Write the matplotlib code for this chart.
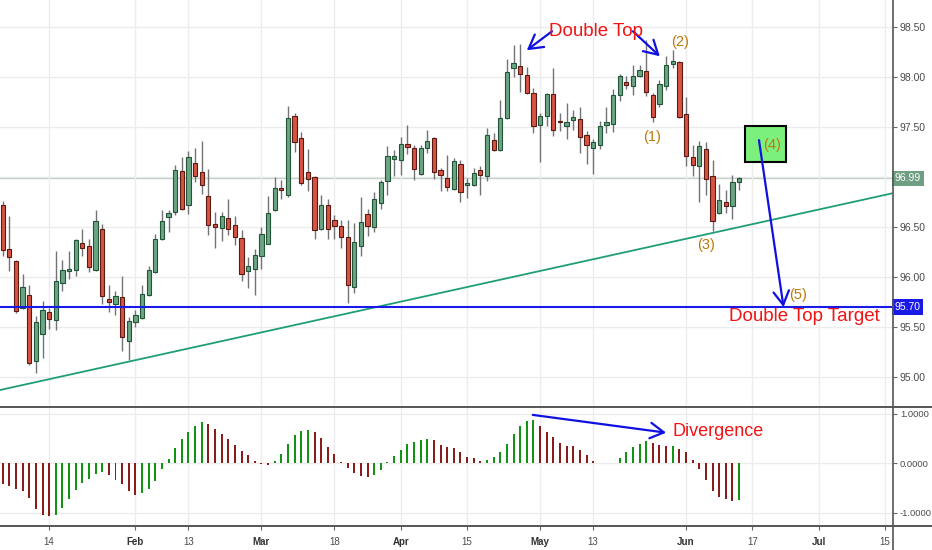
import numpy as np
import matplotlib.pyplot as plt
from matplotlib.patches import Rectangle
from matplotlib.lines import Line2D

#=========================================================================================
# daily candles (Jan 3 .. Jun 13)

opens = [96.72, 96.28, 96.16, 95.69, 95.82, 95.16, 95.43, 95.65, 95.57, 95.94,
         96.06, 96.07, 96.34, 96.31, 96.07, 96.48, 95.78, 95.73, 95.80, 95.36,
         95.55, 95.59, 95.82, 96.05, 96.38, 96.60, 96.65, 97.06, 96.72, 97.14,
         97.05, 96.81, 96.53, 96.49, 96.59, 96.52, 96.39, 96.06, 96.08, 96.21,
         96.33, 96.67, 96.89, 96.82, 97.61, 97.39, 97.05, 97.00, 96.48, 96.72,
         96.57, 96.51, 96.40, 95.90, 96.31, 96.63, 96.50, 96.74, 96.96, 97.18,
         97.17, 97.33, 97.29, 97.03, 97.29, 97.39, 97.07, 96.99, 96.88, 97.13,
         96.92, 96.92, 97.07, 97.01, 97.37, 97.27, 97.59, 98.09, 98.11, 98.02,
         97.84, 97.52, 97.61, 97.83, 97.56, 97.51, 97.57, 97.58, 97.42, 97.29,
         97.32, 97.52, 97.53, 97.82, 97.95, 97.91, 98.01, 98.06, 97.82, 97.73,
         97.91, 98.13, 98.15, 97.63, 97.20, 97.11, 97.28, 97.01, 96.64, 96.75,
         96.71, 96.95]

highs = [96.76, 96.61, 96.17, 96.03, 95.92, 95.61, 95.76, 95.69, 96.26, 96.17,
         96.26, 96.38, 96.48, 96.38, 96.67, 96.53, 95.92, 95.86, 96.01, 95.60,
         95.67, 95.92, 96.11, 96.43, 96.67, 96.67, 97.12, 97.20, 97.26, 97.29,
         97.36, 97.08, 96.65, 96.65, 96.78, 96.61, 96.47, 96.20, 96.28, 96.50,
         96.81, 97.00, 96.97, 97.71, 97.64, 97.45, 97.28, 97.01, 96.82, 96.78,
         96.62, 96.57, 96.57, 96.54, 96.80, 96.68, 96.85, 96.97, 97.31, 97.27,
         97.40, 97.52, 97.32, 97.32, 97.47, 97.40, 97.09, 97.22, 97.19, 97.17,
         96.99, 97.09, 97.11, 97.49, 97.44, 97.77, 98.18, 98.32, 98.33, 98.10,
         97.89, 97.64, 97.84, 98.09, 97.64, 97.74, 97.67, 97.70, 97.46, 97.38,
         97.56, 97.70, 97.88, 98.03, 98.01, 98.12, 98.12, 98.37, 97.84, 97.97,
         98.21, 98.27, 98.16, 97.80, 97.32, 97.36, 97.35, 97.17, 96.93, 96.87,
         97.02, 97.00]

lows = [96.21, 96.06, 95.64, 95.68, 95.12, 95.04, 95.19, 95.48, 95.47, 95.86,
        95.98, 96.01, 96.21, 96.05, 96.06, 95.73, 95.65, 95.62, 95.26, 95.17,
        95.50, 95.58, 95.81, 96.04, 96.37, 96.45, 96.62, 96.67, 96.63, 96.95,
        96.83, 96.42, 96.29, 96.36, 96.42, 96.32, 95.96, 95.89, 95.82, 96.08,
        96.33, 96.66, 96.78, 96.80, 97.25, 96.92, 96.86, 96.38, 96.47, 96.38,
        96.38, 96.29, 95.74, 95.84, 96.21, 96.41, 96.45, 96.68, 96.82, 97.01,
        97.02, 97.23, 96.97, 97.02, 97.24, 96.98, 96.86, 96.86, 96.87, 96.75,
        96.79, 96.91, 96.82, 96.96, 97.26, 97.26, 97.58, 98.00, 97.85, 97.83,
        97.44, 97.15, 97.51, 97.41, 97.46, 97.38, 97.47, 97.24, 97.13, 97.03,
        97.28, 97.44, 97.45, 97.76, 97.88, 97.82, 98.00, 97.81, 97.55, 97.70,
        97.87, 98.09, 97.59, 97.11, 97.01, 96.75, 96.82, 96.46, 96.63, 96.64,
        96.58, 96.87]

closes = [96.27, 96.20, 95.66, 95.90, 95.14, 95.55, 95.67, 95.58, 95.96, 96.07,
          96.08, 96.37, 96.29, 96.10, 96.56, 95.81, 95.75, 95.81, 95.40, 95.56,
          95.62, 95.83, 96.07, 96.38, 96.56, 96.64, 97.07, 96.68, 97.20, 97.01,
          96.92, 96.52, 96.50, 96.61, 96.48, 96.40, 96.03, 96.11, 96.22, 96.43,
          96.64, 96.89, 96.87, 97.59, 97.35, 96.94, 96.98, 96.47, 96.72, 96.48,
          96.51, 96.40, 95.92, 96.35, 96.55, 96.51, 96.78, 96.95, 97.21, 97.21,
          97.33, 97.30, 97.08, 97.29, 97.36, 97.05, 97.02, 96.90, 97.16, 96.85,
          96.94, 97.04, 97.02, 97.42, 97.27, 97.59, 98.05, 98.14, 98.03, 97.84,
          97.51, 97.61, 97.83, 97.47, 97.55, 97.55, 97.60, 97.40, 97.32, 97.35,
          97.51, 97.55, 97.82, 98.01, 97.92, 98.01, 98.07, 97.85, 97.60, 97.93,
          98.12, 98.16, 97.60, 97.21, 97.12, 97.31, 96.98, 96.56, 96.77, 96.71,
          96.95, 96.99]

# oscillator histogram
osc = [-0.41, -0.46, -0.52, -0.56, -0.71, -0.92, -1.04, -1.07, -1.04, -0.90,
       -0.73, -0.54, -0.39, -0.32, -0.22, -0.18, -0.24, -0.34, -0.41, -0.56,
       -0.64, -0.61, -0.52, -0.35, -0.12, 0.09, 0.31, 0.49, 0.63, 0.75,
       0.83, 0.79, 0.70, 0.59, 0.49, 0.37, 0.24, 0.16, 0.05, -0.02,
       -0.03, 0.04, 0.18, 0.39, 0.58, 0.66, 0.68, 0.63, 0.51, 0.33,
       0.18, 0.03, -0.10, -0.20, -0.26, -0.27, -0.24, -0.14, 0.03, 0.14,
       0.26, 0.39, 0.44, 0.47, 0.49, 0.47, 0.37, 0.34, 0.31, 0.22,
       0.12, 0.11, 0.05, 0.07, 0.12, 0.22, 0.39, 0.59, 0.76, 0.86,
       0.87, 0.76, 0.63, 0.53, 0.42, 0.36, 0.35, 0.27, 0.16, 0.05,
       0.01, 0.00, 0.01, 0.10, 0.22, 0.33, 0.39, 0.46, 0.41, 0.37,
       0.35, 0.36, 0.28, 0.22, 0.07, -0.12, -0.34, -0.56, -0.68, -0.73,
       -0.76, -0.75]

date_pos = [7, 20, 28, 39, 50, 60, 70, 81, 89, 103, 113, 123, 133]
date_lbl = ['14', 'Feb', '13', 'Mar', '18', 'Apr', '15', 'May', '13', 'Jun', '17', 'Jul', '15']
price_ticks = [95.0, 95.5, 96.0, 96.5, 97.5, 98.0, 98.5]
osc_ticks = [-1.0, 0.0, 1.0]

target = 95.70
trend_x = [-0.41, 134.2]
trend_y = [94.87, 96.84]

#=========================================================================================

font = 'Liberation Sans'
tick_col = '#4a4a4a'

o = np.array(opens); h = np.array(highs); l = np.array(lows); c = np.array(closes)
x = np.arange(len(o))
up = c >= o

fig = plt.figure(figsize=(9.32, 5.5), dpi=100)
ax = fig.add_axes([0, 143/550, 893/932, 407/550])
ax2 = fig.add_axes([0, 24/550, 893/932, 119/550])

# candles
ax.vlines(x, l, h, color='#737375', lw=1, zorder=2)
ax.bar(x, np.maximum(np.abs(c - o), 0.012), 0.64, bottom=np.minimum(o, c),
       color=np.where(up, '#6ba583', '#d75442'),
       edgecolor=np.where(up, '#225437', '#5b1a13'), linewidth=0.8, zorder=3)

ax.plot(trend_x, trend_y, color='#1f9e77', lw=1.3, zorder=4)
ax.axhline(target, color='#1a1ae6', lw=1.5, zorder=4)
ax.axhline(c[-1], color='#c5d3ca', lw=1, zorder=1)

ax.add_patch(Rectangle((111.9, 97.15), 6.1, 0.36, fc='#7cf07c', ec='black', lw=1.5, zorder=5))

arrow = dict(arrowstyle='->,head_length=0.7,head_width=0.4', color='#1010e0', lw=1.6,
             mutation_scale=14, shrinkA=0, shrinkB=0)
ax.annotate('', xy=(117.7, 95.70), xytext=(114.0, 97.37), arrowprops=arrow, zorder=6)
ax.annotate('', xy=(79.0, 98.27), xytext=(82.8, 98.46), arrowprops=arrow, zorder=6)
ax.annotate('', xy=(99.05, 98.21), xytext=(95.0, 98.46), arrowprops=arrow, zorder=6)

red_txt = dict(color='#f01414', fontsize=13.5, family=font, ha='center', va='center', zorder=7)
ax.text(89.5, 98.46, 'Double Top', **red_txt)
ax.text(120.8, 95.61, 'Double Top Target', **red_txt)

gold = dict(color='#c07a0c', fontsize=10.5, family=font, ha='center', va='center', zorder=7)
ax.text(97.9, 97.40, '(1)', **gold)
ax.text(102.1, 98.35, '(2)', **gold)
ax.text(106.0, 96.32, '(3)', **gold)
ax.text(115.9, 97.32, '(4)', **gold)
ax.text(119.9, 95.82, '(5)', **gold)

# oscillator
osc_c = np.where(np.r_[False, np.diff(osc) > 0], '#129412', '#8b1c1c')
ax2.bar(x, osc, 0.3, color=osc_c, zorder=3)
ax2.annotate('', xy=(100.0, 0.62), xytext=(79.9, 0.98), arrowprops=arrow, zorder=6)
ax2.text(100.96, 0.64, 'Divergence', color='#f01414', fontsize=13, family=font,
         ha='left', va='center', zorder=7)

for a in (ax, ax2):
    a.set_xlim(-0.41, 134.2)
    a.set_xticks(date_pos)
    a.grid(True, color='#ececec', lw=1, zorder=0)
    for s in a.spines.values():
        s.set_visible(False)
    a.yaxis.tick_right()
    a.tick_params(axis='y', length=3, width=0.8, color='#666666', labelsize=7.5,
                  labelcolor=tick_col, pad=2)

ax.tick_params(axis='x', length=0)
ax.set_ylim(94.70, 98.773)
ax.set_yticks(price_ticks)
ax.set_yticklabels(['%.2f' % v for v in price_ticks], family=font)
ax.set_xticklabels([])
ax.axhline(97.0, color='#ececec', lw=1, zorder=0)

ax2.set_ylim(-1.27, 1.14)
ax2.set_yticks(osc_ticks)
ax2.set_yticklabels(['%.4f' % v for v in osc_ticks], family=font)
ax2.tick_params(axis='y', labelsize=6.8)
ax2.set_xticklabels(date_lbl, family=font)
ax2.tick_params(axis='x', length=3, width=0.8, color='#666666', labelsize=7,
                labelcolor=tick_col, pad=5)
for t in ax2.get_xticklabels():
    if not t.get_text().isdigit():
        t.set_fontweight('bold')
        t.set_color('#333333')

# price labels on the scale
for val, col in ((c[-1], '#6f9f83'), (target, '#1a1ae6')):
    ax.text(1.002, val, '%.2f' % val, transform=ax.get_yaxis_transform(), color='white',
            fontsize=7.5, family=font, ha='left', va='center', zorder=8, clip_on=False,
            bbox=dict(boxstyle='square,pad=0.25', fc=col, ec='none'))

# pane separators
fig.add_artist(Line2D([893/932, 893/932], [0, 1], color='#555555', lw=1.2))
fig.add_artist(Line2D([0, 1], [143/550, 143/550], color='#555555', lw=1.4))
fig.add_artist(Line2D([0, 1], [24/550, 24/550], color='#555555', lw=1.4))

plt.savefig('out.png', dpi=100)
